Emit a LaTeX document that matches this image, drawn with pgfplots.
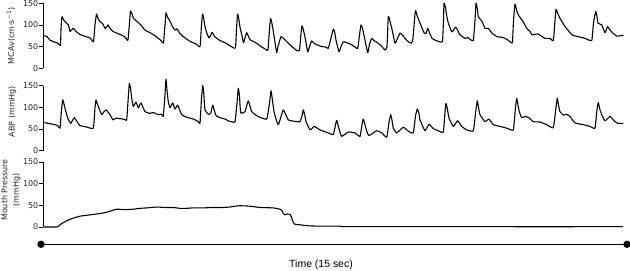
\documentclass[border=0pt]{standalone}
\usepackage{fontspec}
\setmainfont{DejaVu Sans}
\newfontfamily\arial{Liberation Sans}
\usepackage{pgfplots}
\pgfplotsset{compat=1.18}

\pgfplotsset{trace/.style={x=1bp,y=0.434bp,xmin=43.5,xmax=625,ymin=0,ymax=150,
  anchor=south west,clip=false,
  axis x line=none,axis y line=left,axis line style={-,line width=0.8bp,black},
  ytick={0,50,100,150},tick align=outside,major tick length=4bp,
  tick style={line width=0.8bp,black},
  /pgf/number format/assume math mode=true,
  yticklabel style={font=\fontsize{8}{9}\selectfont,inner sep=1bp,black!85}},
  sig/.style={black,line width=1.1bp,line join=round,smooth,tension=0.25}}
\tikzset{lab/.style={rotate=90,anchor=center,font=\fontsize{8}{11.5}\selectfont,align=center,black!85}}

\begin{document}
\begin{tikzpicture}
\useasboundingbox (0,0) rectangle (630bp,-271bp);

% MCAv
\begin{axis}[trace,at={(43.5bp,-68.3bp)}]
\addplot[sig] coordinates {
(44,75)(47,73)(50,65)(55,60)(57,59)(59,55)(60.5,53)
(61,90)(61.5,110)(62,119)(63.5,112)(65,108)(67,103)(68.5,100)(70,85)(71.5,88)(73.5,92)(76,85)(80,78)(86,73)(90,70)(92,64)(93.5,61)
(95,100)(96.5,125)(98,115)(100,108)(103,102)(105,92)(107,96)(108,100)(110,92)(113,85)(118,80)(122,76)(125,72)(127,66)(128,65)
(129.5,105)(130.5,132)(132,125)(133.5,115)(137,108)(140,102)(145,88)(150,82)(155,75)(160,66)(162.5,60)(163.5,58)
(165,100)(166,128)(167.5,118)(170,109)(172,98)(175,88)(177,91)(180,80)(185,70)(190,62)(196,56)(200,50)
(201.5,100)(202.5,125)(203.5,118)(205,96)(207,80)(209,70)(210.5,75)(212,83)(213.5,78)(215,72)(220,64)(225,59)(230,52)(233,48)(235.5,47)
(236.5,90)(237.5,125)(238.5,118)(240,95)(242,75)(243.5,59)(245,70)(246.7,82)(248,76)(250,66)(255,60)(260,52)(264,46)(266.7,42)(268,43)
(269.5,90)(270.5,115)(271.5,108)(273,90)(275,60)(276.7,36)(278,50)(281,73)(284,68)(287,61)(291,52)(296.7,41)(299.5,42)
(301,80)(302,98)(303,92)(305,72)(307.7,38)(309.5,50)(311.7,63)(314,58)(317,54)(322,50)(326,49)(328.3,46)
(331.5,75)(333.3,90)(334.5,85)(336,65)(339,38)(341,50)(343.3,61)(347,59)(351,55)(355,49)(357.7,46)
(360,85)(361,100)(362.5,92)(365,65)(367.7,36)(369.5,55)(371.7,69)(374,64)(378,58)(382,50)(385,42)(387,50)
(388.3,119)(390,108)(392,90)(395,58)(397,66)(400,81)(403,75)(406,66)(409,60)(411.7,58)(413,70)
(415,125)(415.7,133)(417,122)(420,104)(424.3,81)(426,80)(427.7,92)(429,85)(432,69)(436,64)(440,61)(442.5,62)
(443.5,110)(444,150)(445.5,140)(447.5,111)(451.7,84)(455.7,95)(458,86)(460,77)(465,69)(468,71)(470,67)(473.3,64)
(475,110)(476,150)(477.5,135)(478.3,119)(482,108)(485,92)(488.3,92)(492,81)(497,73)(503,71)(508,65)(512.3,59)
(513.5,110)(515,148)(516.5,135)(518.3,123)(523,108)(526.7,92)(530,85)(532,77)(538,79)(545,69)(550,69)(553.3,64)
(555,110)(556,136)(557.5,128)(560,115)(565,96)(568,88)(572,77)(578,73)(585,69)(591.7,64)
(593.5,105)(595.7,131)(597,118)(598,104)(601.7,100)(605,82)(607.7,96)(610,88)(613,81)(617,74)(620,75)(623.3,76)};
\end{axis}

% ABP
\begin{axis}[trace,at={(43.5bp,-150.7bp)}]
\addplot[sig] coordinates {
(44,65)(48,63)(55,60)(58,57)(60,52)
(61.5,95)(62.7,117)(63.5,112)(65,98)(67.7,75)(70.7,63)(72.5,70)(74.3,76)(76.5,69)(80,58)(86,55)(93.3,52)
(95,100)(96,117)(97,110)(98.3,102)(101.7,83)(104,90)(106,94)(108,89)(110,83)(113,71)(116,75)(120,74)(125,72)(126.7,71)
(128.5,130)(129.3,155)(130.5,145)(131.7,121)(133.3,102)(136,112)(138.3,99)(141,110)(145,90)(150,86)(153.3,88)(158,83)(161.7,84)(163.3,79)
(165,130)(166,165)(167,140)(168.3,113)(170,99)(172.7,110)(175,96)(177.7,105)(181.7,83)(186.7,77)(193.3,73)(198.3,67)(200,63)
(201.5,120)(202.7,150)(203.5,140)(205,94)(208.3,84)(210.7,86)(212.7,105)(214,95)(216,81)(220,76)(225,73)(230,67)
(232,67)(235,66)(237,110)(238.3,144)(239.5,125)(240.7,87)(245,90)(248.3,115)(251.7,90)(258,79)(266.7,73)
(269.5,110)(271,138)(272.5,115)(274.3,87)(278.3,60)(283.3,94)(288.3,71)(296.7,67)(300,67)
(302,80)(303.3,94)(305,80)(306,67)(310,48)(314.3,56)(320,48)(328.3,41)(333.3,37)
(335.5,60)(336.7,70)(338,60)(339.3,48)(341.7,33)(348.3,43)(355,41)(360,33)
(362,60)(363.3,73)(365,60)(366.7,45)(369,35)(376.7,46)(381.7,41)(386.7,31)
(389,65)(390.7,83)(392,70)(393.3,52)(396.7,41)(403.3,54)(408.3,45)(413.3,41)
(415.5,80)(417.3,96)(419,85)(420,71)(425,46)(429,61)(433.3,51)(438.3,46)(443.3,43)
(445,90)(446,109)(447.5,95)(449,75)(453.3,56)(457.7,69)(461.7,56)(466.7,48)(473.3,46)
(476,95)(477.3,115)(478.5,100)(480,83)(485,67)(489,73)(493.3,60)(500,56)(506.7,52)(513.3,48)
(515.5,100)(516.7,121)(518,105)(519.3,90)(521.7,76)(525,79)(529,76)(533.3,67)(540,66)(546.7,60)(553.3,53)
(556,100)(557.3,121)(558.5,105)(560,90)(563.3,82)(566.7,84)(570,79)(575,64)(583.3,60)(590,56)(595,52)
(597,95)(598.3,111)(599.5,98)(601.7,83)(605,69)(610,79)(614,69)(618,63)(623.3,63)};
\end{axis}

% Mouth pressure
\begin{axis}[trace,at={(43.5bp,-227bp)}]
\addplot[sig] coordinates {
(44,0)(56.7,0)(58,1)(61.7,8)(68.3,16)(74,21)(80,25)(90,28)(100,31)(106.7,34)(112,38)(116.7,41)
(125,40)(133.3,41)(140,43)(146.7,44)(156.7,46)(165,45)(173.3,45)(180,43)(186,43)(193.3,44)(203,44)
(213.3,45)(222,45)(230,46)(235,48)(240,49)(250,48)(260,45)(273.3,44)(280,41)(282,38)(283.3,31)
(285,28)(287.3,30)(290,29)(291.5,22)(292.3,16)(294.3,7)(300,5)(310,2.5)(320,2)(335,2)(340,2)
(343,1)(400,0.8)(500,0.7)(623,0.7)};
% 15 s time bar
\addplot[black,line width=0.9bp,mark=*,mark size=3.2pt] coordinates {(41,-39.8)(627,-39.8)};
\end{axis}

\node[lab] at (11bp,-35.8bp) {MCAv(cm·s\textsuperscript{−1})};
\node[lab] at (12.5bp,-111.5bp) {ABP (mmHg)};
\node[lab] at (11bp,-190bp) {Mouth Pressure\\(mmHg)};
\node[font=\arial\fontsize{10.5}{12}\selectfont,anchor=base] at (321bp,-267.5bp) {Time (15 sec)};
\end{tikzpicture}
\end{document}
